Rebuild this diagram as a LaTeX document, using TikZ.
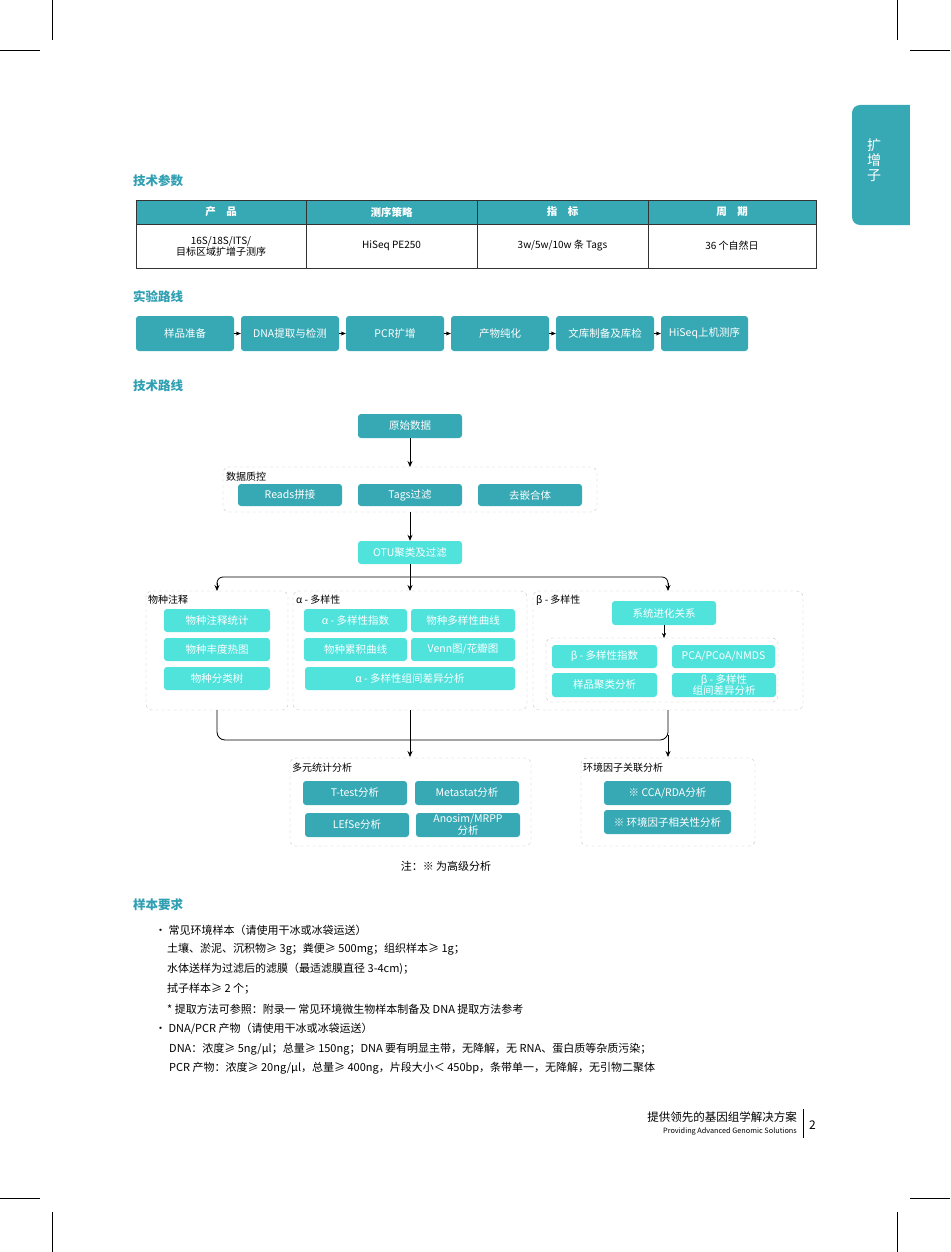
\documentclass[tikz,border=0pt]{standalone}
\usepackage{fontspec}
\setmainfont{Noto Sans CJK SC}
\usetikzlibrary{arrows.meta}
\definecolor{teal}{HTML}{36A9B4}
\definecolor{cyanb}{HTML}{4FE3DC}
\definecolor{ttl}{HTML}{2F9FB2}
\tikzset{
 x=1pt,y=-1pt,
 dk/.style={fill=teal,rounded corners=3pt,text=white,font=\fontsize{10}{11}\selectfont,align=center,inner sep=0pt},
 lt/.style={fill=cyanb,rounded corners=3pt,text=white,font=\fontsize{10}{11}\selectfont,align=center,inner sep=0pt},
 grp/.style={draw=gray!45,dashed,rounded corners=6pt},
 glab/.style={anchor=west,font=\fontsize{10}{10}\selectfont,inner sep=0pt},
 ttl/.style={anchor=west,font=\fontsize{12.5}{13}\selectfont\bfseries,text=ttl,inner sep=0pt},
 arr/.style={-{Stealth[length=6pt,width=5pt]},thick},
 crop/.style={draw=black,line width=0.5pt},
 txt/.style={anchor=west,font=\fontsize{11}{12}\selectfont,inner sep=0pt},
}
\newcommand{\bx}[6]{\node[#1,minimum width=#4-#2,minimum height=#5-#3] (#6) at ({(#2+#4)/2},{(#3+#5)/2}) {};}
\begin{document}
\begin{tikzpicture}
\useasboundingbox (0,0) rectangle (950,1252);
\fill[white] (0,0) rectangle (950,1252);
% crop marks
\draw[crop] (52,0)--(52,40) (897,0)--(897,40) (0,50)--(40,50) (910,50)--(950,50);
\draw[crop] (52,1212)--(52,1252) (897,1212)--(897,1252) (0,1198)--(40,1198) (910,1198)--(950,1198);
% tab
\fill[teal,rounded corners=8pt] (852,105) rectangle (925,225);
\fill[white] (910,100) rectangle (930,230);
\node[text=white,font=\fontsize{14}{15}\selectfont,align=center] (tab) at (874,160) {扩\\增\\子};
% titles
\node[ttl] (t1) at (133,181) {技术参数};
\node[ttl] (t2) at (133,297) {实验路线};
\node[ttl] (t3) at (133,386) {技术路线};
\node[ttl] (t4) at (133,905) {样本要求};
% table
\fill[teal] (136,200) rectangle (816,224);
\draw[black!80] (136,200) rectangle (816,268) (136,224)--(816,224);
\foreach \x in {306,477,648} \draw[black!80] (\x,200)--(\x,268);
\foreach \x/\t in {221/产\quad 品,391.5/测序策略,562.5/指\quad 标,732/周\quad 期}
  \node[text=white,font=\fontsize{10.5}{11}\selectfont\bfseries] at (\x,212) {\t};
\node[font=\fontsize{10}{11}\selectfont,align=center] (c1) at (221,246) {16S/18S/ITS/\\目标区域扩增子测序};
\node[font=\fontsize{10}{11}\selectfont] (c2) at (391.5,246) {HiSeq PE250};
\node[font=\fontsize{10}{11}\selectfont] (c3) at (562.5,246) {3w/5w/10w 条 Tags};
\node[font=\fontsize{10}{11}\selectfont] (c4) at (732,246) {36 个自然日};
% experiment route
\newcommand{\tb}[7]{\bx{#1}{#2}{#3}{#4}{#5}{#6}\node[text=white,font=\fontsize{10.5}{11}\selectfont,align=center,inner sep=0pt] at (#6) {#7};}
\tb{dk}{136}{316}{234}{351}{e1}{样品准备}
\tb{dk}{241}{316}{339}{351}{e2}{DNA提取与检测}
\tb{dk}{346}{316}{444}{351}{e3}{PCR扩增}
\tb{dk}{451}{316}{549}{351}{e4}{产物纯化}
\tb{dk}{556}{316}{654}{351}{e5}{文库制备及库检}
\tb{dk}{661}{316}{748}{351}{e6}{HiSeq上机测序}
\foreach \a/\b in {e1/e2,e2/e3,e3/e4,e4/e5,e5/e6} \draw[-{Stealth[length=5pt,width=4pt]}] (\a.east)--(\b.west);
% tech route
\tb{dk}{358}{414}{462}{438}{raw}{原始数据}
\draw[grp] (223,467) rectangle (597,512);
\node[glab] (g0) at (226,477) {数据质控};
\tb{dk}{238}{484}{342}{506}{q1}{Reads拼接}
\tb{dk}{358}{484}{462}{506}{q2}{Tags过滤}
\tb{dk}{478}{484}{582}{506}{q3}{去嵌合体}
\tb{lt}{358}{541}{462}{564}{otu}{OTU聚类及过滤}
\coordinate (gq) at (410,467);
\coordinate (gqb) at (410,512);
\draw[arr] (raw.south)--(gq);
\draw[arr] (gqb)--(otu.north);
% branches
\coordinate (a1) at (217,591);\coordinate (a2) at (410,591);\coordinate (a3) at (668,591);
\draw[thick] (otu.south)--(410,577);
\draw[thick,rounded corners=6pt] (217,585)--(217,577)--(668,577)--(668,585);
\draw[arr] (217,583)--(a1);
\draw[arr] (410,577)--(a2);
\draw[arr] (668,583)--(a3);
% groups
\draw[grp] (146,591) rectangle (288,710);
\node[glab] at (148,600) {物种注释};
\tb{lt}{164}{609}{270}{632}{s1}{物种注释统计}
\tb{lt}{164}{638}{270}{661}{s2}{物种丰度热图}
\tb{lt}{164}{667}{270}{690}{s3}{物种分类树}
\draw[grp] (293,591) rectangle (527,710);
\node[glab] at (296,600) {α - 多样性};
\tb{lt}{304}{609}{407}{632}{al1}{α - 多样性指数}
\tb{lt}{411}{609}{515}{632}{al2}{物种多样性曲线}
\tb{lt}{304}{638}{407}{661}{al3}{物种累积曲线}
\tb{lt}{411}{638}{515}{661}{al4}{Venn图/花瓣图}
\tb{lt}{305}{667}{515}{690}{al5}{α - 多样性组间差异分析}
\draw[grp] (533,591) rectangle (803,710);
\node[glab] at (536,600) {β - 多样性};
\tb{lt}{612}{601}{716}{625}{b0}{系统进化关系}
\draw[grp] (546,638) rectangle (778,702);
\coordinate (bg) at (664,638);
\draw[-{Stealth[length=5pt,width=4pt]}] (664,625)--(bg);
\tb{lt}{552}{645}{657}{668}{b1}{β - 多样性指数}
\tb{lt}{672}{645}{775}{668}{b2}{PCA/PCoA/NMDS}
\tb{lt}{552}{673}{657}{697}{b3}{样品聚类分析}
\bx{lt}{672}{673}{776}{697}{b4}\node[text=white,font=\fontsize{10.5}{10}\selectfont,align=center,inner sep=0pt] at (b4) {β - 多样性\\组间差异分析};
% lower connectors
\coordinate (m1) at (410,757);\coordinate (m2) at (668,757);
\draw[thick,rounded corners=8pt] (217,710)--(217,740)--(410,740);
\draw[thick,rounded corners=8pt] (668,710)--(668,740)--(410,740);
\draw[thick] (410,710)--(410,740);
\draw[arr] (410,740)--(m1);
\draw[arr] (668,735)--(m2);
\draw[grp] (290,758) rectangle (531,846);
\node[glab] at (292,768) {多元统计分析};
\tb{dk}{303}{781}{407}{805}{v1}{T-test分析}
\tb{dk}{415}{781}{519}{805}{v2}{Metastat分析}
\tb{dk}{305}{813}{409}{837}{v3}{LEfSe分析}
\bx{dk}{416}{813}{520}{837}{v4}\node[text=white,font=\fontsize{10.5}{10}\selectfont,align=center,inner sep=0pt] at (v4) {Anosim/MRPP\\分析};
\draw[grp] (581,758) rectangle (755,846);
\node[glab] at (583,768) {环境因子关联分析};
\tb{dk}{604}{781}{731}{805}{en1}{※ CCA/RDA分析}
\tb{dk}{604}{810}{731}{834}{en2}{※ 环境因子相关性分析}
\node[font=\fontsize{11}{11}\selectfont] (note) at (446,866) {注：※ 为高级分析};
% sample requirements
\node[txt] at (155,930) {• 常见环境样本（请使用干冰或冰袋运送）};
\node[txt] at (167,949) {土壤、淤泥、沉积物≥ 3g；粪便≥ 500mg；组织样本≥ 1g；};
\node[txt] at (167,969) {水体送样为过滤后的滤膜（最适滤膜直径 3-4cm)；};
\node[txt] at (167,989) {拭子样本≥ 2 个；};
\node[txt] at (167,1009) {* 提取方法可参照：附录一 常见环境微生物样本制备及 DNA 提取方法参考};
\node[txt] at (155,1029) {• DNA/PCR 产物（请使用干冰或冰袋运送）};
\node[txt] at (169,1049) {DNA：浓度≥ 5ng/μl；总量≥ 150ng；DNA 要有明显主带，无降解，无 RNA、蛋白质等杂质污染；};
\node[txt] at (169,1068) {PCR 产物：浓度≥ 20ng/μl，总量≥ 400ng，片段大小＜ 450bp，条带单一，无降解，无引物二聚体};
% footer
\node[anchor=east,font=\fontsize{11.5}{12}\selectfont,inner sep=0pt] (f1) at (797,1117) {提供领先的基因组学解决方案};
\node[anchor=east,font=\fontsize{7.3}{8}\selectfont,inner sep=0pt] (f2) at (797,1131) {Providing Advanced Genomic Solutions};
\draw (803,1109)--(803,1138);
\node[anchor=west,font=\fontsize{12}{13}\selectfont,inner sep=0pt] (pg) at (809,1125) {2};
\end{tikzpicture}
\end{document}
